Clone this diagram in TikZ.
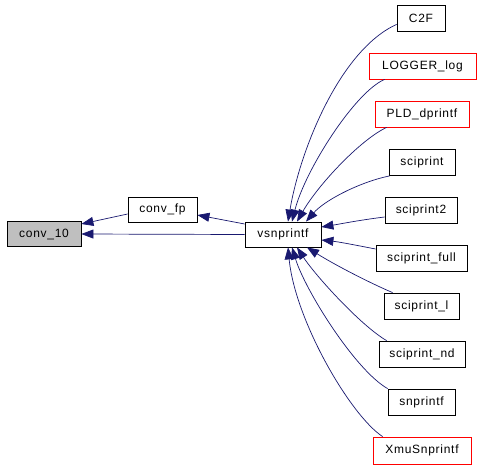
\documentclass[tikz,border=0pt]{standalone}
\usepackage{fontspec}
\setmainfont[LetterSpace=6]{Liberation Sans}
\usetikzlibrary{arrows.meta}
\definecolor{edgeblue}{HTML}{191970}
\definecolor{nodegrey}{HTML}{BFBFBF}
\tikzset{
  fn/.style={draw=black, line width=0.8pt, fill=white, inner sep=0pt, minimum height=26pt,
    font=\fontsize{12}{14}\selectfont},
  redfn/.style={fn, draw=red},
  call/.style={draw=edgeblue, line width=0.7pt, -{Triangle[length=12pt,width=9pt]}},
}
\begin{document}
\begin{tikzpicture}[x=1pt,y=-1pt]
\useasboundingbox[fill=white] (0,0) rectangle (479,466);
% nodes
\node[fn, fill=nodegrey, minimum width=74pt, minimum height=25pt] (c10) at (44,234) {conv\_10};
\node[fn, minimum width=69pt, minimum height=25pt] (cfp) at (162.5,209.5) {conv\_fp};
\node[fn, minimum width=76pt, minimum height=25pt] (vs) at (283,234.5) {vsnprintf};
\node[fn, minimum width=48pt] (c2f) at (421,18) {C2F};
\node[redfn, minimum width=107pt] (log) at (422.5,66) {LOGGER\_log};
\node[redfn, minimum width=94pt] (pld) at (422,114) {PLD\_dprintf};
\node[fn, minimum width=66pt] (sp) at (422,162.5) {sciprint};
\node[fn, minimum width=72pt] (sp2) at (421,210) {sciprint2};
\node[fn, minimum width=91pt] (spf) at (421.5,258) {sciprint\_full};
\node[fn, minimum width=75pt] (spl) at (421.5,306) {sciprint\_l};
\node[fn, minimum width=86pt] (spnd) at (422,354) {sciprint\_nd};
\node[fn, minimum width=67pt] (snp) at (421.5,402) {snprintf};
\node[redfn, minimum width=98pt, minimum height=27pt] (xmu) at (422,450.5) {XmuSnprintf};
% edges
\draw[call] ([yshift=10.5pt]vs.west) -- ([yshift=-5.5pt]cfp.east);
\draw[call] (vs.west) -- (c10.east);
\draw[call] ([yshift=-4.5pt]cfp.west) -- ([yshift=10pt]c10.east);
\draw[call] ([yshift=7pt]c2f.south west) .. controls (340,50) and (300,150) .. ([xshift=5pt]vs.north);
\draw[call] ([xshift=16pt]log.south west) .. controls (355,92) and (305,170) .. ([xshift=9pt]vs.north);
\draw[call] ([xshift=12pt]pld.south west) .. controls (360,140) and (318,185) .. ([xshift=14pt]vs.north);
\draw[call] ([xshift=1pt]sp.south west) .. controls (360,182) and (325,200) .. ([xshift=23pt]vs.north);
\draw[call] ([yshift=-7pt]sp2.west) .. controls (360,220) and (340,224) .. ([yshift=7.5pt]vs.east);
\draw[call] ([yshift=9pt]spf.west) .. controls (360,246) and (340,242) .. ([yshift=-5.5pt]vs.east);
\draw[call] ([xshift=9pt]spl.north west) .. controls (370,283) and (335,265) .. ([xshift=24pt]vs.south);
\draw[call] ([xshift=8pt]spnd.north west) .. controls (360,325) and (315,275) .. ([xshift=14pt]vs.south);
\draw[call] ([xshift=0pt]snp.north west) .. controls (355,370) and (305,290) .. ([xshift=9pt]vs.south);
\draw[call] ([xshift=10pt]xmu.north west) .. controls (350,415) and (295,320) .. ([xshift=5pt]vs.south);
\end{tikzpicture}
\end{document}
